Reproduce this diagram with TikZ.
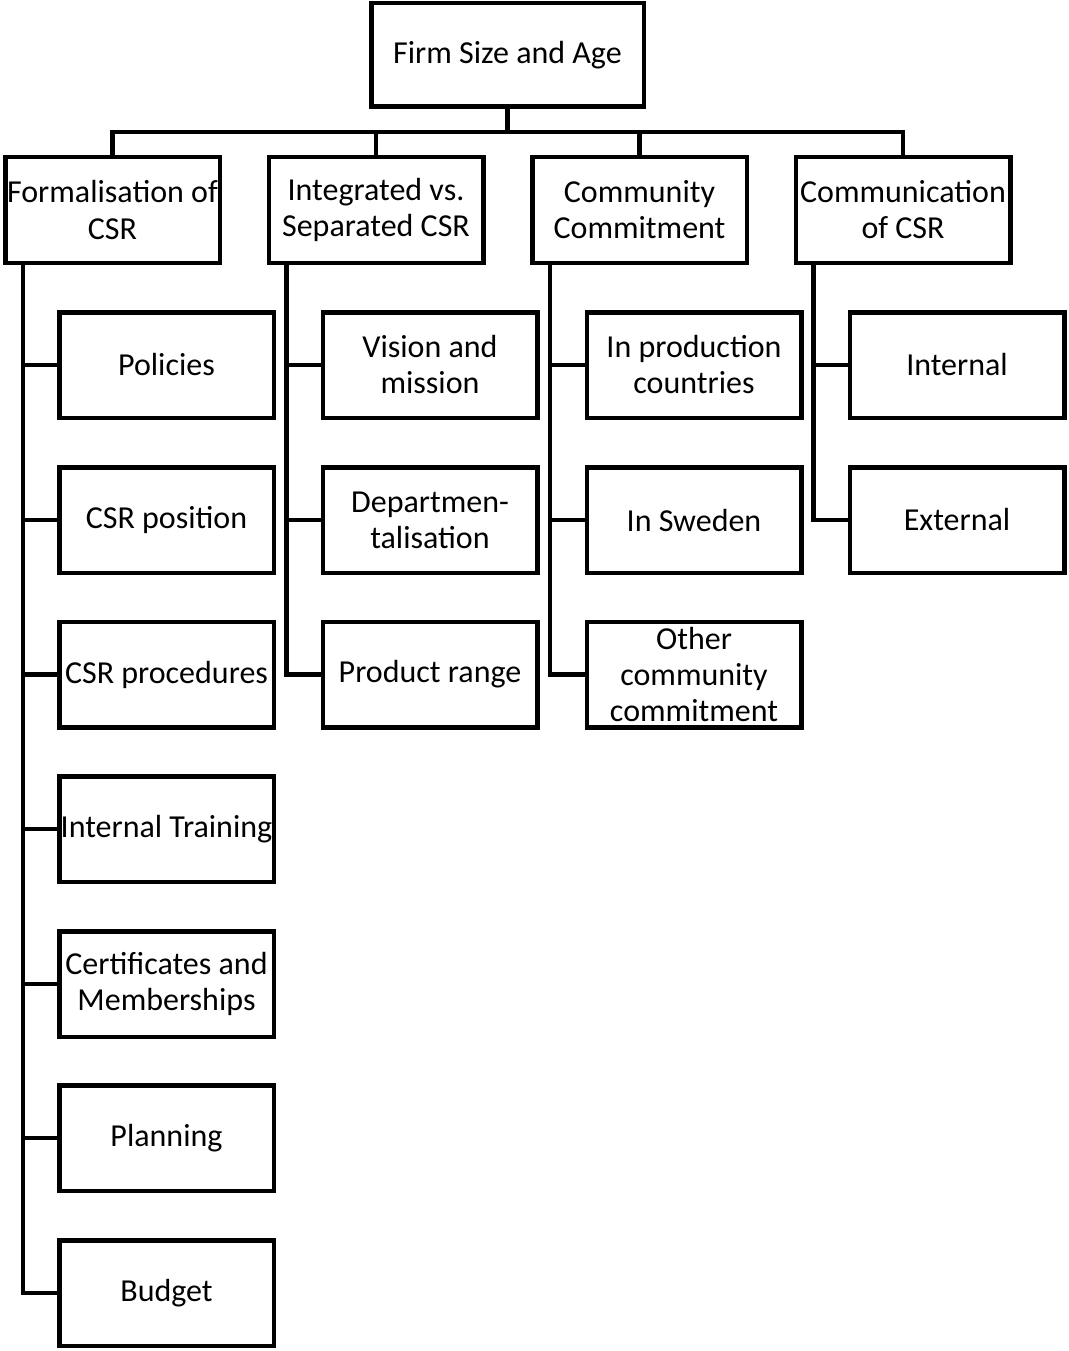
\documentclass[tikz,border=0pt]{standalone}
\usepackage{fontspec}
\setmainfont{Carlito}
\begin{document}
\begin{tikzpicture}[
    x=1pt, y=-1pt,
    box/.style={draw, line width=4.5pt, minimum width=214.5pt, minimum height=105.5pt,
        inner sep=0pt, align=center, font=\fontsize{32}{36}\selectfont},
    link/.style={line width=4.5pt}
]
\useasboundingbox (0,0) rectangle (1068,1351);

\node[box, minimum width=272.5pt, minimum height=103.5pt] (top) at (507.5,55) {Firm Size and Age};

\node[box] (form) at (112.5,210) {Formalisation of\\CSR};
\node[box] (integ) at (376,210) {Integrated vs.\\Separated CSR};
\node[box] (comm) at (639.5,210) {Community\\Commitment};
\node[box] (commu) at (903,210) {Communication\\of CSR};

% Formalisation of CSR
\node[box] (pol) at (166.5,365) {Policies};
\node[box] (pos) at (166.5,520) {CSR position};
\node[box] (proc) at (166.5,674.5) {CSR procedures};
\node[box] (train) at (166.5,829) {Internal Training};
\node[box] (cert) at (166.5,984) {Certificates and\\Memberships};
\node[box] (plan) at (166.5,1138) {Planning};
\node[box] (budg) at (166.5,1293) {Budget};

% Integrated vs. Separated CSR
\node[box] (vis) at (430,365) {Vision and\\mission};
\node[box] (dep) at (430,520) {Departmen-\\talisation};
\node[box] (prod) at (430,674.5) {Product range};

% Community Commitment
\node[box] (inprod) at (694,365) {In production\\countries};
\node[box] (inswe) at (694,520) {In Sweden};
\node[box] (other) at (694,674.5) {Other\\community\\commitment};

% Communication of CSR
\node[box] (intern) at (957,365) {Internal};
\node[box] (extern) at (957,520) {External};

% bus from the top box
\draw[link] (top.south) -- ++(0,23) coordinate (bus);
\draw[link] (bus) -| (form.north);
\draw[link] (bus) -| (integ.north);
\draw[link] (bus) -| (comm.north);
\draw[link] (bus) -| (commu.north);

% trunks
\coordinate (t1) at ([xshift=20pt]form.south west);
\coordinate (t2) at ([xshift=20pt]integ.south west);
\coordinate (t3) at ([xshift=20pt]comm.south west);
\coordinate (t4) at ([xshift=20pt]commu.south west);

\draw[link] (t1) |- (budg.west);
\draw[link] (pol.west) -- (pol.west -| t1);
\draw[link] (pos.west) -- (pos.west -| t1);
\draw[link] (proc.west) -- (proc.west -| t1);
\draw[link] (train.west) -- (train.west -| t1);
\draw[link] (cert.west) -- (cert.west -| t1);
\draw[link] (plan.west) -- (plan.west -| t1);

\draw[link] (t2) |- (prod.west);
\draw[link] (vis.west) -- (vis.west -| t2);
\draw[link] (dep.west) -- (dep.west -| t2);

\draw[link] (t3) |- (other.west);
\draw[link] (inprod.west) -- (inprod.west -| t3);
\draw[link] (inswe.west) -- (inswe.west -| t3);

\draw[link] (t4) |- (extern.west);
\draw[link] (intern.west) -- (intern.west -| t4);

\end{tikzpicture}
\end{document}
